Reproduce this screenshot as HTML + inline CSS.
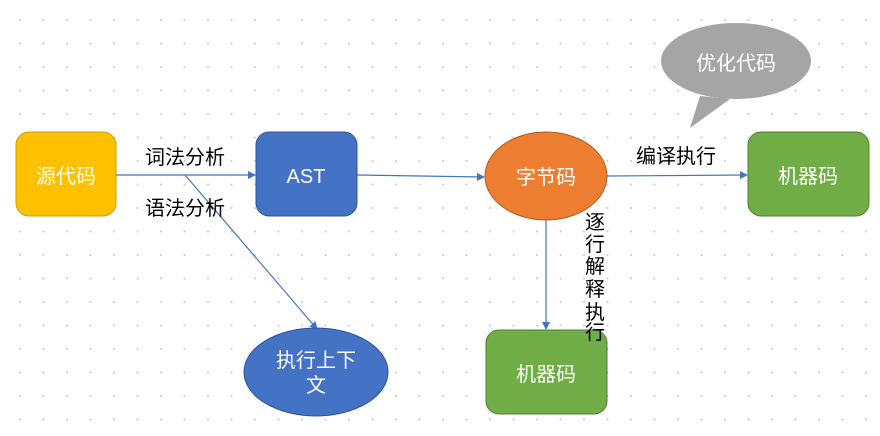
<!DOCTYPE html>
<html><head><meta charset="utf-8"><style>
body{margin:0;width:880px;height:431px;overflow:hidden;background:#fff}
svg text{font-family:"Liberation Sans","Noto Sans CJK SC",sans-serif}
</style></head><body>
<svg width="880" height="431" xmlns="http://www.w3.org/2000/svg">
<defs>
<pattern id="d" x="8.5" y="8.5" width="23.5" height="23.5" patternUnits="userSpaceOnUse"><circle cx="11.5" cy="11.5" r="1" fill="#c8c8c8"/></pattern>
<marker id="a" markerWidth="8" markerHeight="8" refX="7" refY="4" orient="auto" markerUnits="userSpaceOnUse"><path d="M0,0 L8,4 L0,8z" fill="#4472c4"/></marker>
</defs>
<rect width="880" height="431" fill="url(#d)"/>
<g stroke="#4472c4" stroke-width="1.2" fill="none">
<line x1="116" y1="175" x2="255" y2="175" marker-end="url(#a)"/>
<line x1="357" y1="175" x2="484" y2="177" marker-end="url(#a)"/>
<line x1="607" y1="176" x2="747" y2="175" marker-end="url(#a)"/>
<line x1="546" y1="220" x2="546" y2="329" marker-end="url(#a)"/>
<line x1="185" y1="175" x2="317" y2="329" marker-end="url(#a)"/>
</g>
<rect x="16" y="132" width="100" height="84" rx="13" fill="#ffc000" stroke="#c9a000"/>
<rect x="256" y="132" width="101" height="84" rx="13" fill="#4472c4" stroke="#2f5597"/>
<ellipse cx="546" cy="176" rx="61" ry="44" fill="#ed7d31" stroke="#ae5a21"/>
<rect x="748" y="132" width="121" height="84" rx="13" fill="#70ad47" stroke="#507e32"/>
<rect x="486" y="330" width="121" height="84" rx="13" fill="#70ad47" stroke="#507e32"/>
<ellipse cx="316" cy="372" rx="72" ry="44" fill="#4472c4" stroke="#2f5597"/>
<path d="M700,96 L690,128 L730,99z" fill="#a5a5a5"/>
<ellipse cx="736" cy="61" rx="75" ry="38" fill="#a5a5a5"/>
<g fill="#fff" font-size="20" text-anchor="middle">
<text x="66" y="183">源代码</text>
<text x="306" y="183">AST</text>
<text x="546" y="184">字节码</text>
<text x="808" y="183">机器码</text>
<text x="546" y="381">机器码</text>
<text x="316" y="367">执行上下</text>
<text x="316" y="392">文</text>
<text x="736" y="70">优化代码</text>
</g>
<g fill="#000" font-size="20">
<text x="145" y="164">词法分析</text>
<text x="145" y="215">语法分析</text>
<text x="636" y="163">编译执行</text>
<text x="585" y="229">逐</text>
<text x="585" y="251">行</text>
<text x="585" y="273">解</text>
<text x="585" y="296">释</text>
<text x="585" y="319">执</text>
<text x="585" y="339">行</text>
</g>
</svg>
</body></html>
